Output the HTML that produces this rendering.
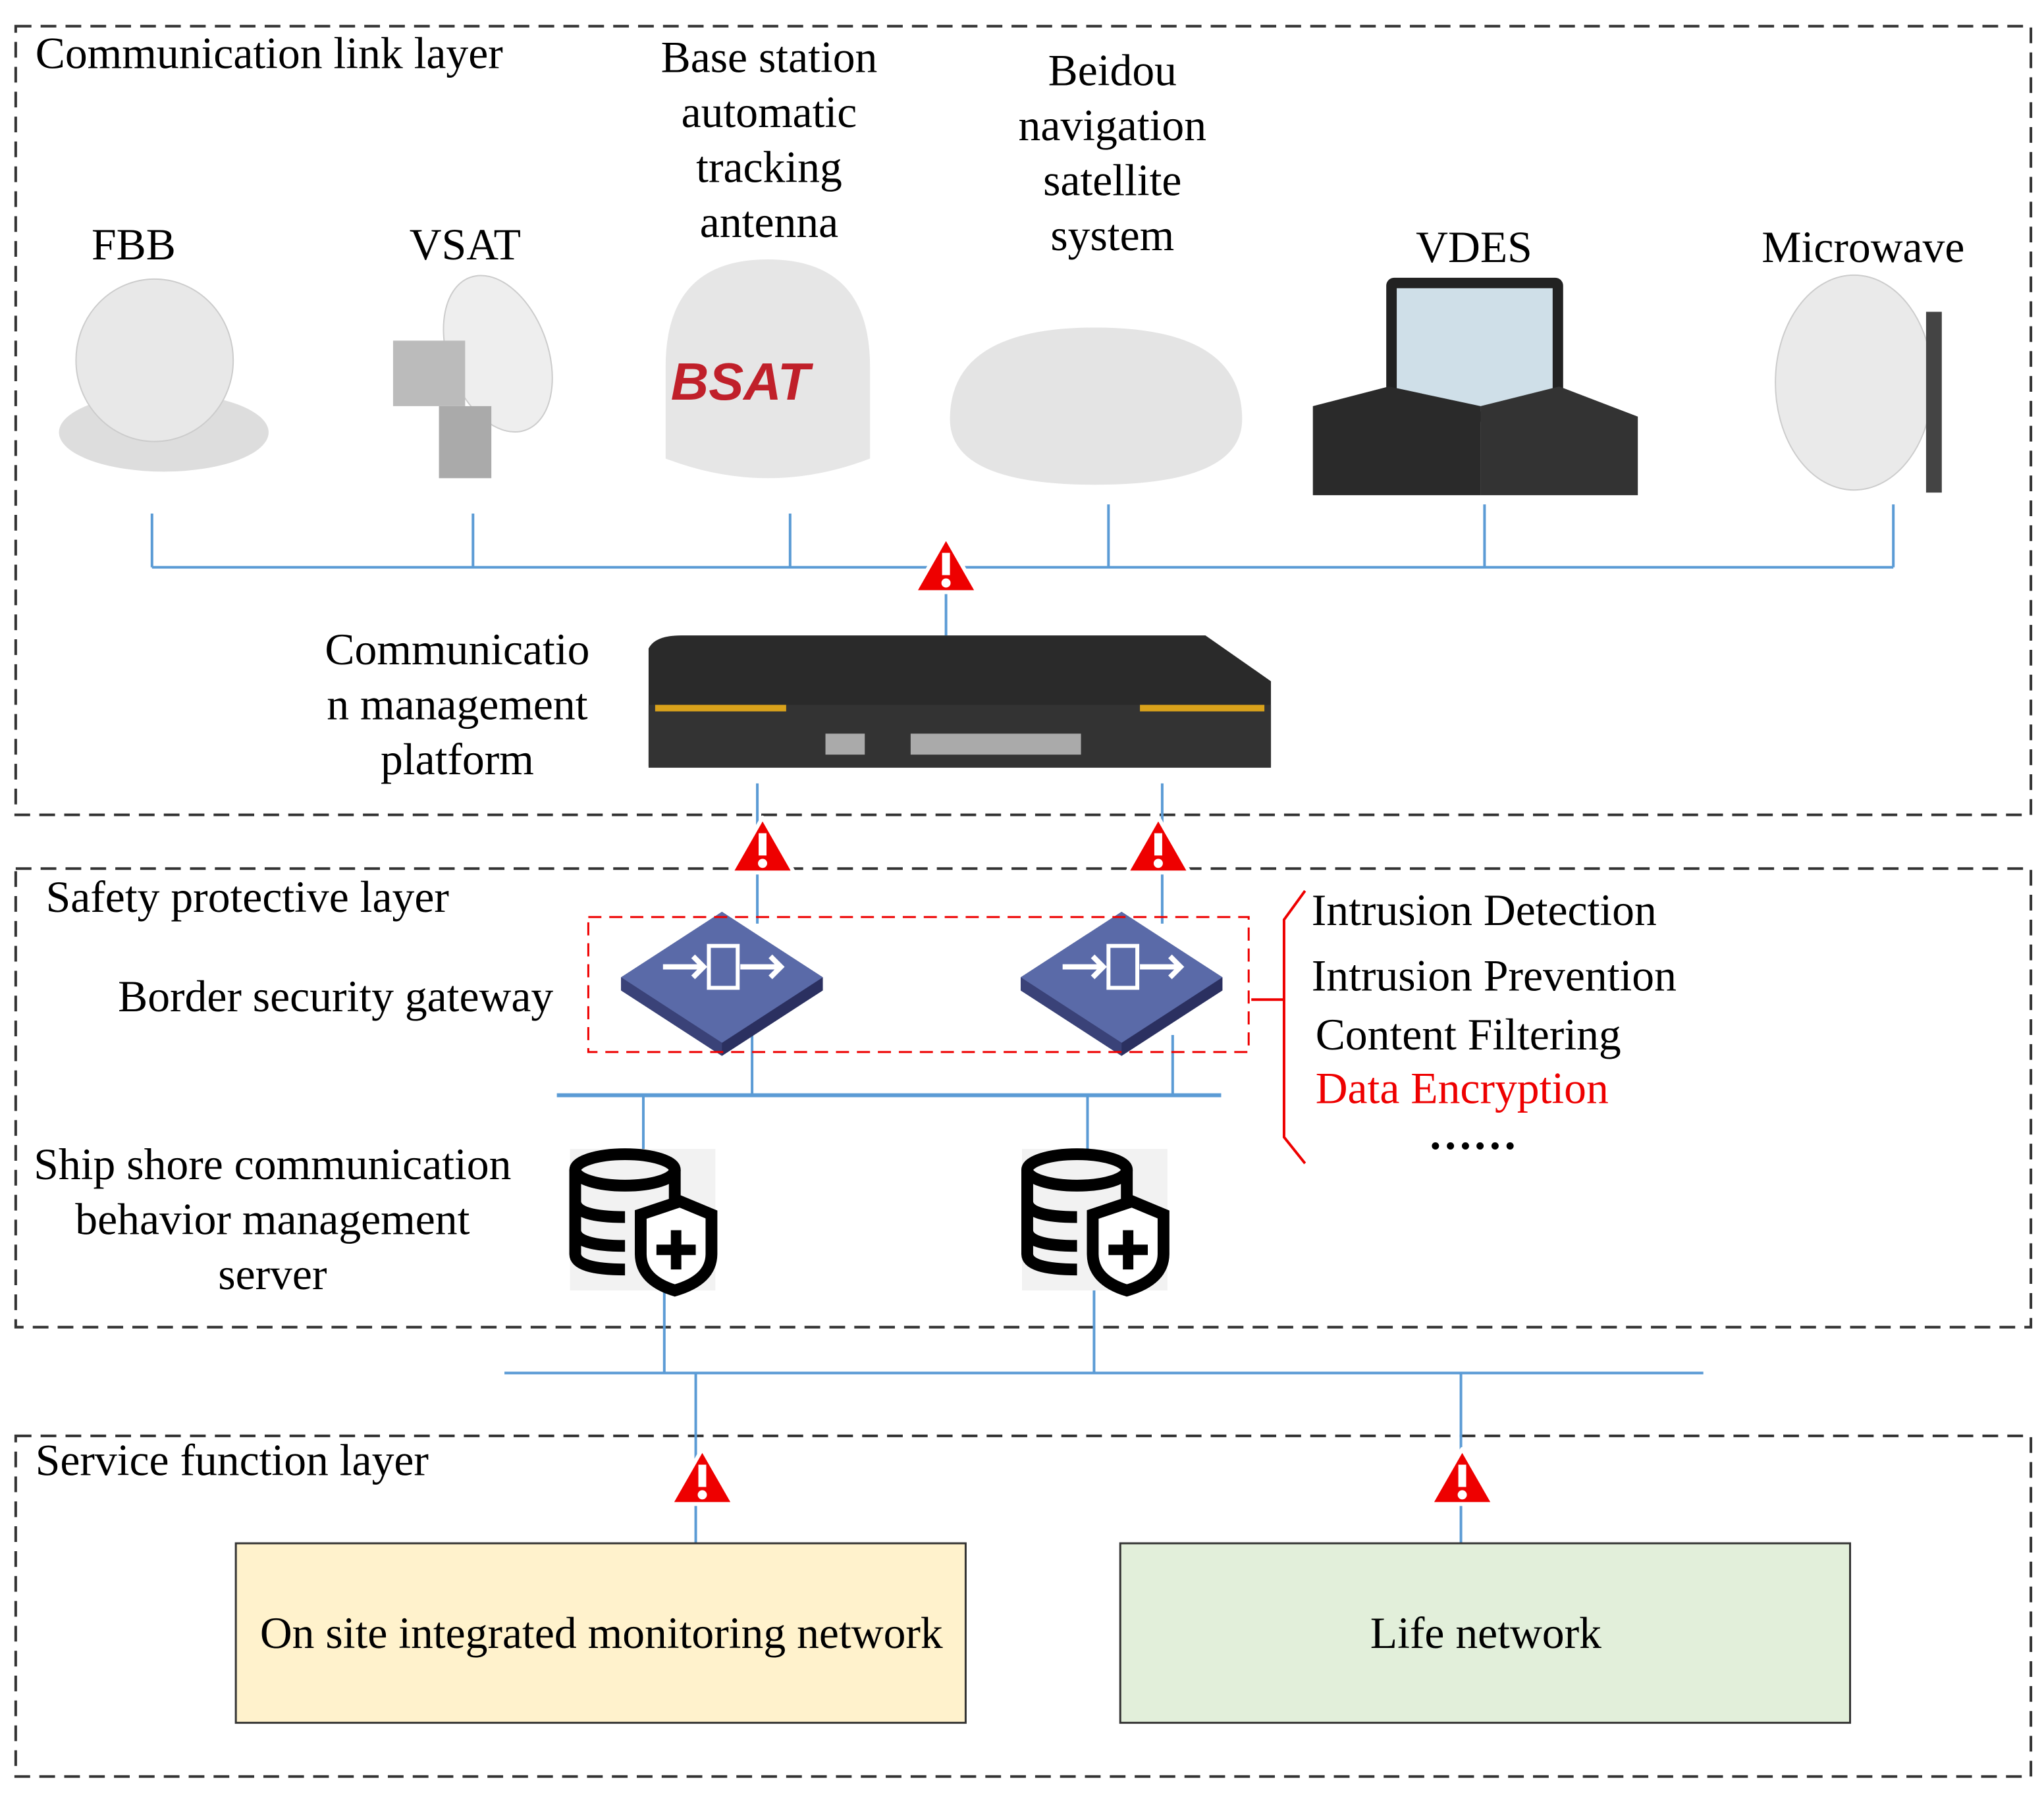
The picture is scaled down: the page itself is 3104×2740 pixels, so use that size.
<!DOCTYPE html>
<html><head><meta charset="utf-8"><style>
html,body{margin:0;padding:0;background:#fff}
svg{display:block}
text{font-family:"Liberation Serif",serif;font-size:34px;fill:#000}
</style></head><body>
<svg width="3104" height="2740" viewBox="0 0 1560 1377" preserveAspectRatio="none" xmlns="http://www.w3.org/2000/svg">
<defs>
<g id="warn"><path d="M0,-24 L24,18 L-24,18 Z" fill="#e00" stroke="#fff" stroke-width="3" stroke-linejoin="round"/><rect x="-3" y="-12" width="6" height="17" fill="#fff"/><circle cx="0" cy="11" r="3.5" fill="#fff"/></g>
<g id="gw"><path d="M0,-54 L77,-4 L77,6 L0,56 L-77,6 L-77,-4 Z" fill="#2b3060"/><path d="M0,-54 L77,-4 L0,46 L-77,-4 Z" fill="#5a6aa8"/><path d="M-77,-4 L0,46 L0,56 L-77,6Z" fill="#3a4278"/><rect x="-10" y="-28" width="22" height="32" fill="none" stroke="#fff" stroke-width="3"/><path d="M-45,-12 H-14 M-22,-20 L-14,-12 L-22,-4 M14,-12 H45 M37,-20 L45,-12 L37,-4" stroke="#fff" stroke-width="4" fill="none"/></g>
<g id="db"><rect x="0" y="0" width="111" height="108" fill="#f2f2f2"/><ellipse cx="42" cy="16" rx="38" ry="12" fill="none" stroke="#000" stroke-width="9"/><path d="M4,16 V80 Q4,92 42,92 M4,40 Q4,52 42,52 M4,62 Q4,74 42,74 M80,16 V42" fill="none" stroke="#000" stroke-width="9"/><path d="M54,50 L84,40 L108,50 V80 Q108,100 80,108 Q54,100 54,80Z" fill="#fff" stroke="#000" stroke-width="9"/><path d="M81,62 V92 M66,77 H96" stroke="#000" stroke-width="8"/></g>
</defs>
<g fill="none" stroke="#333" stroke-width="2" stroke-dasharray="12,7">
<rect x="12" y="20" width="1538" height="602"/>
<rect x="12" y="663" width="1538" height="350"/>
<rect x="12" y="1096" width="1538" height="260"/>
</g>
<g stroke="#5b9bd5" stroke-width="2" fill="none">
<path d="M116,433 H1445 M116,392 V433 M361,392 V433 M603,392 V433 M846,385 V433 M1133,385 V433 M1445,385 V433 M722,433 V485"/>
<path d="M578,598 V705 M887,598 V705"/>
<path d="M425,836 H932" stroke-width="3"/>
<path d="M574,790 V836 M895,790 V836 M491,836 V878 M830,836 V878"/>
<path d="M507,985 V1048 M835,985 V1048 M385,1048 H1300 M531,1048 V1178 M1115,1048 V1178"/>
</g>
<ellipse cx="125" cy="330" rx="80" ry="30" fill="#ddd"/><ellipse cx="118" cy="275" rx="60" ry="62" fill="#e8e8e8" stroke="#ccc"/>
<ellipse cx="380" cy="270" rx="38" ry="62" fill="#eee" stroke="#ccc" transform="rotate(-20 380 270)"/><rect x="300" y="260" width="55" height="50" fill="#bbb"/><rect x="335" y="310" width="40" height="55" fill="#aaa"/>
<path d="M508,350 V280 Q508,198 586,198 Q664,198 664,280 V350 Q586,380 508,350Z" fill="#e6e6e6"/><text x="512" y="305" style="font-family:'Liberation Sans',sans-serif;font-weight:bold;font-style:italic;font-size:40px;fill:#c0202a">BSAT</text>
<path d="M725,320 Q725,250 836,250 Q948,250 948,320 Q948,370 836,370 Q725,370 725,320Z" fill="#e4e4e4"/>
<rect x="1058" y="212" width="135" height="110" rx="6" fill="#222"/><rect x="1066" y="220" width="119" height="94" fill="#cfdfe8"/>
<path d="M1002,310 L1060,295 L1130,310 V378 H1002Z" fill="#2a2a2a"/><path d="M1130,310 L1190,295 L1250,318 V378 H1130Z" fill="#333"/>
<ellipse cx="1415" cy="292" rx="60" ry="82" fill="#eaeaea" stroke="#ccc"/><rect x="1470" y="238" width="12" height="138" fill="#444"/>
<path d="M495,495 Q500,485 520,485 H920 L970,520 V585 H495Z" fill="#2a2a2a"/><rect x="495" y="538" width="475" height="48" fill="#333"/><rect x="500" y="538" width="100" height="5" fill="#d9a21b"/><rect x="870" y="538" width="95" height="5" fill="#d9a21b"/>
<g fill="#aaa"><rect x="630" y="560" width="30" height="16"/><rect x="695" y="560" width="130" height="16"/></g>
<use href="#warn" x="722" y="434"/><use href="#warn" x="582" y="648"/><use href="#warn" x="884" y="648"/>
<use href="#warn" x="536" y="1130"/><use href="#warn" x="1116" y="1130"/>
<use href="#gw" x="551" y="750"/><use href="#gw" x="856" y="750"/>
<rect x="449" y="700" width="504" height="103" fill="none" stroke="#e00" stroke-width="1.5" stroke-dasharray="10,6"/>
<path d="M955,763 H980 M996,680 L980,702 V868 L996,888" fill="none" stroke="#e00" stroke-width="2"/>
<use href="#db" x="435" y="877"/><use href="#db" x="780" y="877"/>
<rect x="180" y="1178" width="557" height="137" fill="#fff2cc" stroke="#333" stroke-width="1.5"/>
<rect x="855" y="1178" width="557" height="137" fill="#e2efda" stroke="#333" stroke-width="1.5"/>
<text x="27" y="52">Communication link layer</text>
<text x="102" y="198" text-anchor="middle">FBB</text>
<text x="355" y="198" text-anchor="middle">VSAT</text>
<g text-anchor="middle"><text x="587" y="55">Base station</text><text x="587" y="97">automatic</text><text x="587" y="139">tracking</text><text x="587" y="181">antenna</text>
<text x="849" y="65">Beidou</text><text x="849" y="107">navigation</text><text x="849" y="149">satellite</text><text x="849" y="191">system</text>
<text x="1125" y="200">VDES</text><text x="1422" y="200">Microwave</text>
<text x="349" y="507">Communicatio</text><text x="349" y="549">n management</text><text x="349" y="591">platform</text>
<text x="208" y="900">Ship shore communication</text><text x="208" y="942">behavior management</text><text x="208" y="984">server</text>
<text x="459" y="1258">On site integrated monitoring network</text><text x="1134" y="1258">Life network</text></g>
<text x="35" y="696">Safety protective layer</text>
<text x="90" y="772">Border security gateway</text>
<text x="1001" y="706">Intrusion Detection</text>
<text x="1001" y="756">Intrusion Prevention</text>
<text x="1004" y="801">Content Filtering</text>
<text x="1004" y="842" style="fill:#e00">Data Encryption</text>
<text x="1090" y="877" style="font-weight:bold">……</text>
<text x="27" y="1126">Service function layer</text>
</svg>
</body></html>
